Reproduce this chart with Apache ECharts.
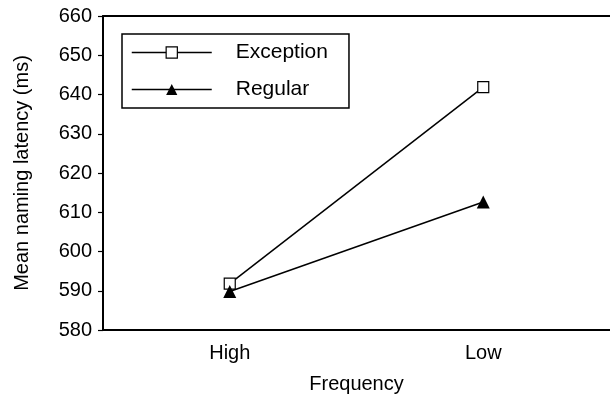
<!DOCTYPE html>
<html>
<head>
<meta charset="utf-8">
<script src="https://cdn.jsdelivr.net/npm/echarts@6/dist/echarts.min.js"></script>
<style>
html,body{margin:0;padding:0;background:#fff;}
#chart{width:610px;height:399px;}
</style>
</head>
<body>
<div id="chart"></div>
<script>
var categories = ['High', 'Low'];
var exceptionValues = [591.8, 641.9];
var regularValues = [589.8, 612.6];
var yTicks = {min: 580, max: 660, interval: 10};
var xTitle = 'Frequency';
var yTitle = 'Mean naming latency (ms)';
var seriesNames = ['Exception', 'Regular'];

var FONT = 'Arial, "Liberation Sans", Helvetica, sans-serif';
var chart = echarts.init(document.getElementById('chart'), null, {renderer: 'canvas'});
chart.setOption({
  animation: false,
  backgroundColor: '#ffffff',
  grid: {
    left: 103, top: 16, width: 512, height: 315,
    show: false
  },
  legend: {
    orient: 'vertical',
    left: 122, top: 34,
    padding: [8, 21, 8, 9],
    itemGap: 16,
    itemWidth: 80,
    itemHeight: 14,
    borderColor: '#000',
    borderWidth: 1.5,
    borderRadius: 0,
    backgroundColor: '#fff',
    textStyle: {fontFamily: FONT, fontSize: 21, color: '#000', lineHeight: 20, padding: [0, 0, 0, 19]},
    lineStyle: {color: '#000', width: 1.5},
    data: [
      {name: seriesNames[0], itemStyle: {color: '#fff', borderColor: '#000', borderWidth: 1.2}},
      {name: seriesNames[1], itemStyle: {color: '#000', borderColor: '#000', borderWidth: 0}}
    ]
  },
  xAxis: [{
    type: 'category',
    data: categories,
    boundaryGap: true,
    name: xTitle,
    nameLocation: 'middle',
    nameGap: 44,
    nameTextStyle: {fontFamily: FONT, fontSize: 20, color: '#000'},
    axisLine: {lineStyle: {color: '#000', width: 2}},
    axisTick: {alignWithLabel: true, length: 5, lineStyle: {color: '#000', width: 1.2}},
    axisLabel: {fontFamily: FONT, fontSize: 20, color: '#000', margin: 13},
    splitLine: {show: false}
  }, {
    type: 'category',
    data: categories,
    position: 'top',
    axisLine: {show: true, lineStyle: {color: '#000', width: 2}},
    axisTick: {show: false},
    axisLabel: {show: false},
    splitLine: {show: false}
  }],
  yAxis: {
    type: 'value',
    min: yTicks.min, max: yTicks.max, interval: yTicks.interval,
    name: yTitle,
    nameLocation: 'middle',
    nameGap: 71,
    nameRotate: 90,
    nameTextStyle: {fontFamily: FONT, fontSize: 20, color: '#000'},
    axisLine: {show: true, lineStyle: {color: '#000', width: 2}},
    axisTick: {show: true, length: 5, lineStyle: {color: '#000', width: 1.2}},
    axisLabel: {fontFamily: FONT, fontSize: 20, color: '#000', margin: 11},
    splitLine: {show: false}
  },
  series: [
    {
      name: seriesNames[0],
      type: 'line',
      data: exceptionValues,
      symbol: 'rect',
      symbolSize: 11,
      lineStyle: {color: '#000', width: 1.5},
      itemStyle: {color: '#fff', borderColor: '#000', borderWidth: 1.2},
      z: 3
    },
    {
      name: seriesNames[1],
      type: 'line',
      data: regularValues,
      symbol: 'triangle',
      symbolSize: 13,
      lineStyle: {color: '#000', width: 1.5},
      itemStyle: {color: '#000', borderColor: '#000', borderWidth: 0},
      z: 4
    }
  ]
});
</script>
</body>
</html>
